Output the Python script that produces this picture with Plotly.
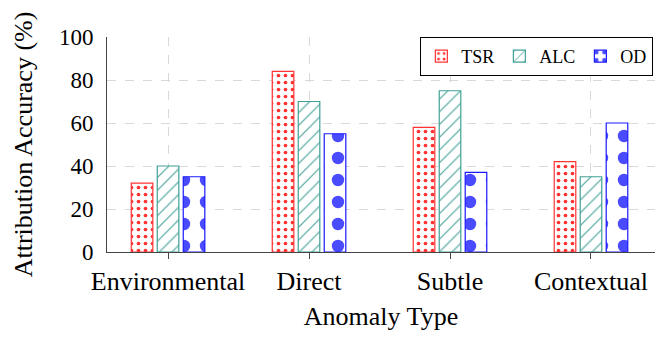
import plotly.graph_objects as go

categories = ["Environmental", "Direct", "Subtle", "Contextual"]
tsr = [32, 84, 58, 42]
alc = [40, 70, 75, 35]
od = [35, 55, 37, 60]
y_ticks = [0, 20, 40, 60, 80, 100]

FONT = "Liberation Serif"

fig = go.Figure()
fig.add_trace(go.Bar(
    name="TSR", x=categories, y=tsr,
    marker=dict(color="white", line=dict(color="#ff3333", width=1.2),
                pattern=dict(shape=".", fgcolor="#ff3333", bgcolor="white",
                             size=7, solidity=0.22, fillmode="replace")),
))
fig.add_trace(go.Bar(
    name="ALC", x=categories, y=alc,
    marker=dict(color="white", line=dict(color="#40a095", width=1.2),
                pattern=dict(shape="/", fgcolor="#40a095", bgcolor="white",
                             size=9, solidity=0.12, fillmode="replace")),
))
fig.add_trace(go.Bar(
    name="OD", x=categories, y=od,
    marker=dict(color="white", line=dict(color="#1a1aff", width=1.2),
                pattern=dict(shape=".", fgcolor="#4a4aff", bgcolor="white",
                             size=22, solidity=0.25, fillmode="replace")),
))

fig.update_layout(
    width=670, height=337,
    margin=dict(l=107, r=15, t=37, b=85),
    paper_bgcolor="white", plot_bgcolor="white",
    barmode="group", bargap=0.447, bargroupgap=0.17,
    font=dict(family=FONT, size=26, color="black"),
    showlegend=True,
    legend=dict(orientation="h", x=0.997, y=1.0, xanchor="right", yanchor="top",
                bordercolor="black", borderwidth=1, bgcolor="white",
                font=dict(family=FONT, size=18, color="black"), itemwidth=30),
    xaxis=dict(
        range=[-0.433, 3.454],
        title=dict(text="Anomaly Type", font=dict(family=FONT, size=26), standoff=11),
        showline=True, linecolor="#444", linewidth=1,
        ticks="outside", ticklen=6, tickcolor="#444",
        showgrid=True, gridcolor="#d9d9d9", griddash="dash", gridwidth=1,
        tickfont=dict(family=FONT, size=26),
    ),
    yaxis=dict(
        range=[0, 100], tickvals=y_ticks,
        title=dict(text="Attribution Accuracy (%)", font=dict(family=FONT, size=26), standoff=18),
        showline=True, linecolor="#444", linewidth=1,
        ticks="", ticklabelstandoff=8,
        showgrid=True, gridcolor="#d9d9d9", griddash="dash", gridwidth=1,
        zeroline=False, tickfont=dict(family=FONT, size=23),
    ),
)

fig.write_html("out.html", config={"displayModeBar": False},
               post_script="document.body.style.margin='0';")
